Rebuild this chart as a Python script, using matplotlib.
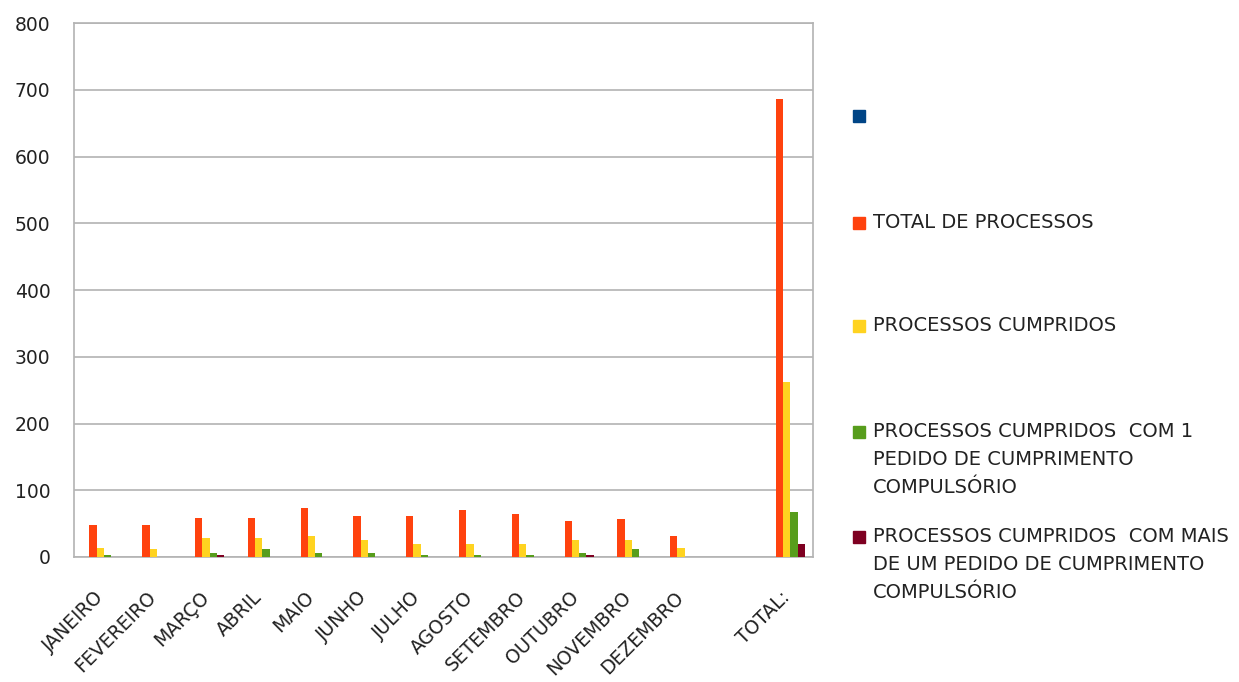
import matplotlib.pyplot as plt
import numpy as np
from matplotlib.patches import Rectangle

plt.rcParams['font.family'] = ['DejaVu Sans']

# month categories, one empty slot, then the yearly total
categories = ['JANEIRO', 'FEVEREIRO', 'MARÇO', 'ABRIL', 'MAIO', 'JUNHO', 'JULHO',
              'AGOSTO', 'SETEMBRO', 'OUTUBRO', 'NOVEMBRO', 'DEZEMBRO', '', 'TOTAL:']

serie_vazia = [0] * 14
total_processos = [48, 48, 59, 59, 73, 62, 62, 70, 65, 54, 57, 31, 0, 686]
processos_cumpridos = [14, 12, 29, 29, 31, 26, 20, 20, 20, 26, 26, 14, 0, 262]
cumpridos_com_1 = [3, 0, 6, 12, 6, 6, 3, 3, 3, 6, 12, 0, 0, 68]
cumpridos_com_mais = [0, 0, 3, 0, 0, 0, 0, 0, 0, 3, 0, 0, 0, 20]

series = [serie_vazia, total_processos, processos_cumpridos, cumpridos_com_1, cumpridos_com_mais]
nomes = ['', 'TOTAL DE PROCESSOS', 'PROCESSOS CUMPRIDOS',
         'PROCESSOS CUMPRIDOS  COM 1\nPEDIDO DE CUMPRIMENTO\nCOMPULSÓRIO',
         'PROCESSOS CUMPRIDOS  COM MAIS\nDE UM PEDIDO DE CUMPRIMENTO\nCOMPULSÓRIO']
cores = ['#004586', '#ff420e', '#ffd320', '#579d1c', '#7e0021']

fig = plt.figure(figsize=(12.39, 6.82), dpi=100)
ax = fig.add_axes([0.0597, 0.1833, 0.5965, 0.7827])

x = np.arange(len(categories))
w = 0.138
for i, (vals, cor) in enumerate(zip(series, cores)):
    ax.bar(x + (i - 2) * w, vals, width=w, color=cor, zorder=3)

ax.set_xlim(-0.5, len(categories) - 0.5)
ax.set_ylim(0, 800)
ax.set_yticks(np.arange(0, 801, 100))
ax.yaxis.grid(True, color='#b3b3b3', linewidth=1.2, zorder=0)
ax.tick_params(axis='both', length=0, labelsize=13.5, colors='#222222')
ax.tick_params(axis='y', pad=17)
ax.set_xticks(x)
ax.set_xticklabels(categories, rotation=45, ha='right', va='center',
                   rotation_mode='anchor')
ax.tick_params(axis='x', pad=27)
for s in ax.spines.values():
    s.set_color('#b3b3b3')
    s.set_linewidth(1.2)

# legend drawn by hand so the markers sit on the first text line
H, W = 682, 1239
leg_y = [116, 223, 326, 432, 537]
for nome, cor, yp in zip(nomes, cores, leg_y):
    fig.add_artist(Rectangle((853 / W, 1 - (yp + 6) / H), 12 / W, 12 / H,
                             transform=fig.transFigure, color=cor))
    fig.text(873 / W, 1 - (yp - 10) / H, nome, fontsize=14, va='top',
             ha='left', color='#222222', linespacing=1.6)

fig.savefig('out.png', dpi=100)
